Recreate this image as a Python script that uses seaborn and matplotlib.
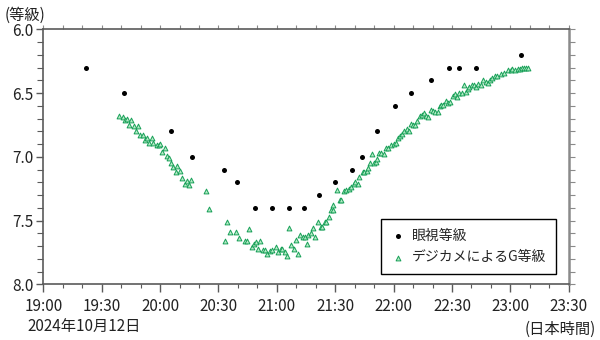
import numpy as np
import pandas as pd
import matplotlib
matplotlib.use("Agg")
import matplotlib.pyplot as plt
import seaborn as sns

# ---- data (time in minutes after 19:00 JST, magnitude) ----
visual_min = [21.7, 41.7, 65.8, 76.6, 92.7, 99.7, 108.7, 117.6, 126.5, 133.7,
              141.9, 149.8, 158.8, 163.7, 171.6, 180.7, 188.7, 199.4, 208.3,
              213.8, 222.6, 245.3]
visual_mag = [6.3, 6.5, 6.8, 7.0, 7.1, 7.2, 7.4, 7.4, 7.4, 7.4,
              7.3, 7.2, 7.1, 7.0, 6.8, 6.6, 6.5, 6.4, 6.3,
              6.3, 6.3, 6.2]

camera_min = [38.8, 40.7, 41.9, 43.1, 44.1, 45.3, 46.5, 47.5, 48.9, 49.7, 51.1,
              52.2, 53.5, 54.4, 55.6, 56.6, 58.2, 59.5, 60.2, 61.0, 62.3, 63.6,
              64.6, 65.8, 66.7, 68.0, 68.9, 70.3, 71.3, 72.7, 73.8, 74.7, 75.7,
              83.8, 85.0,
              93.6, 94.5, 95.8, 98.8, 100.3, 103.4, 104.7, 105.5, 107.0, 108.2,
              109.1, 110.5, 111.5, 112.8, 113.8, 115.2, 116.3, 117.5, 119.5,
              120.5, 121.9, 122.9, 124.0, 125.1, 126.2, 127.5, 128.6, 129.7,
              130.9, 132.0, 133.2, 134.4, 135.4, 136.1, 137.3, 138.7, 139.5,
              140.9, 142.6, 143.1, 144.8, 145.5, 146.9, 147.7, 148.9, 149.0,
              151.1, 152.2, 152.8, 154.4, 155.7, 156.9, 158.3, 159.5, 160.4,
              161.7, 162.4, 164.1, 165.0, 166.2, 167.0, 168.1, 169.1, 169.9,
              171.0, 171.5, 172.7, 173.7, 174.9, 176.1, 177.3, 178.7, 180.0,
              181.2, 182.1, 183.3, 184.3, 185.6, 186.7, 187.7, 188.7, 190.1,
              191.1, 192.2, 193.5, 194.6, 195.7, 196.9, 197.9, 199.0, 200.2,
              201.4, 202.6, 203.6, 204.6, 205.5, 206.9, 208.1, 209.2, 210.3,
              211.5, 212.8, 213.7, 215.1, 216.1, 217.4, 218.2, 219.0, 220.2,
              221.4, 222.6, 223.6, 225.0, 226.0, 227.4, 228.7, 229.6, 230.8,
              232.2, 233.3, 235.1, 236.8, 238.6, 240.1, 241.0, 242.4, 243.7,
              244.8, 245.8, 247.2, 248.2, 249.2]
camera_mag = [6.68, 6.69, 6.71, 6.70, 6.75, 6.71, 6.76, 6.80, 6.76, 6.83, 6.83,
              6.87, 6.85, 6.89, 6.85, 6.89, 6.91, 6.91, 6.90, 6.96, 6.93, 6.99,
              7.01, 7.05, 7.08, 7.12, 7.07, 7.11, 7.17, 7.21, 7.19, 7.22, 7.18,
              7.27, 7.41,
              7.66, 7.51, 7.59, 7.59, 7.64, 7.66, 7.66, 7.57, 7.71, 7.68,
              7.67, 7.72, 7.66, 7.73, 7.73, 7.76, 7.74, 7.73, 7.71,
              7.75, 7.72, 7.72, 7.75, 7.78, 7.56, 7.69, 7.72, 7.65,
              7.76, 7.61, 7.63, 7.63, 7.68, 7.61, 7.60, 7.56, 7.63,
              7.51, 7.55, 7.55, 7.51, 7.51, 7.47, 7.42, 7.42, 7.38,
              7.26, 7.34, 7.34, 7.27, 7.26, 7.25, 7.24, 7.21, 7.20,
              7.21, 7.16, 7.12, 7.12, 7.11, 7.09, 7.05, 6.98, 7.05,
              7.04, 7.02, 6.97, 6.97, 6.98, 6.93, 6.93, 6.91, 6.90,
              6.89, 6.85, 6.84, 6.82, 6.80, 6.78, 6.80, 6.74, 6.75,
              6.75, 6.72, 6.68, 6.67, 6.66, 6.68, 6.69, 6.63, 6.64,
              6.65, 6.65, 6.60, 6.59, 6.59, 6.56, 6.58, 6.57, 6.52,
              6.51, 6.53, 6.50, 6.50, 6.44, 6.49, 6.47, 6.45, 6.44,
              6.44, 6.45, 6.43, 6.44, 6.40, 6.41, 6.42, 6.40, 6.38,
              6.37, 6.37, 6.35, 6.34, 6.32, 6.32, 6.31, 6.32, 6.31,
              6.31, 6.30, 6.30, 6.30, 6.30]

x_tick_labels = ["19:00", "19:30", "20:00", "20:30", "21:00", "21:30",
                 "22:00", "22:30", "23:00", "23:30"]
y_tick_labels = ["6.0", "6.5", "7.0", "7.5", "8.0"]
series_names = ["眼視等級", "デジカメによるG等級"]

# ---- style ----
sns.set_style("ticks")
plt.rcParams['font.family'] = ['Noto Sans CJK JP', 'DejaVu Sans']

vis = pd.DataFrame({"t": visual_min, "mag": visual_mag})
cam = pd.DataFrame({"t": camera_min, "mag": camera_mag})

fig = plt.figure(figsize=(6.0, 3.4), dpi=100)
ax = fig.add_axes([0.0722, 0.1638, 0.8757, 0.75])

sns.scatterplot(data=cam, x="t", y="mag", ax=ax, marker="^", s=12,
                facecolor="#b5ebc6", edgecolor="#18a058", linewidth=0.7,
                label=series_names[1], zorder=3)
sns.scatterplot(data=vis, x="t", y="mag", ax=ax, marker="o", s=13,
                color="black", edgecolor="black", linewidth=0,
                label=series_names[0], zorder=4)

ax.set_xlim(0, 270)
ax.set_ylim(8.0, 6.0)
ax.set_xticks(np.arange(0, 271, 30))
ax.set_xticklabels(x_tick_labels)
ax.set_xticks(np.arange(0, 271, 10), minor=True)
ax.set_yticks([6.0, 6.5, 7.0, 7.5, 8.0])
ax.set_yticklabels(y_tick_labels)
ax.set_yticks(np.arange(6.0, 8.01, 0.1), minor=True)
ax.set_xlabel("")
ax.set_ylabel("")

spine_col = "#5a5a5a"
for s in ax.spines.values():
    s.set_visible(True)
    s.set_color(spine_col)
    s.set_linewidth(1.2)
ax.spines["right"].set_linewidth(1.8)
ax.spines["right"].set_color("#8a8a8a")

ax.tick_params(which="major", axis="x", length=6, width=1.0, color=spine_col,
               labelsize=11, pad=4, labelcolor="#222222")
ax.tick_params(which="minor", axis="x", length=3, width=0.8, color=spine_col)
ax.tick_params(which="major", axis="y", length=5, width=1.0, color=spine_col,
               labelsize=11, pad=2, labelcolor="#222222")
ax.tick_params(which="minor", axis="y", length=4, width=0.8, color=spine_col)

top = ax.secondary_xaxis("top")
top.set_xticks(np.arange(0, 271, 10))
top.set_xticklabels([])
top.tick_params(length=3, width=0.8, color="#8a8a8a")
top.spines["top"].set_visible(False)

right = ax.secondary_yaxis("right")
right.set_yticks(np.arange(6.0, 8.01, 0.1))
right.set_yticklabels([])
right.tick_params(length=4, width=0.8, color="#8a8a8a")
right.spines["right"].set_visible(False)

# reorder legend: visual first
handles, labels = ax.get_legend_handles_labels()
order = [labels.index(series_names[0]), labels.index(series_names[1])]
leg = ax.legend([handles[i] for i in order], [labels[i] for i in order],
                loc="lower right", bbox_to_anchor=(0.976, 0.04),
                frameon=True, fancybox=False, fontsize=10,
                handlelength=1.0, handletextpad=0.5, borderpad=0.7,
                borderaxespad=0.0, labelspacing=0.55, markerscale=1.0)
leg.get_frame().set_edgecolor("black")
leg.get_frame().set_linewidth(1.0)
leg.get_frame().set_alpha(1.0)

fig.text(0.008, 0.955, "(等級)", fontsize=11, ha="left", va="center", color="#222222")
fig.text(0.045, 0.04, "2024年10月12日", fontsize=11, ha="left", va="center", color="#222222")
fig.text(0.993, 0.03, "(日本時間)", fontsize=11, ha="right", va="center", color="#222222")

fig.savefig("out.png", dpi=100)
